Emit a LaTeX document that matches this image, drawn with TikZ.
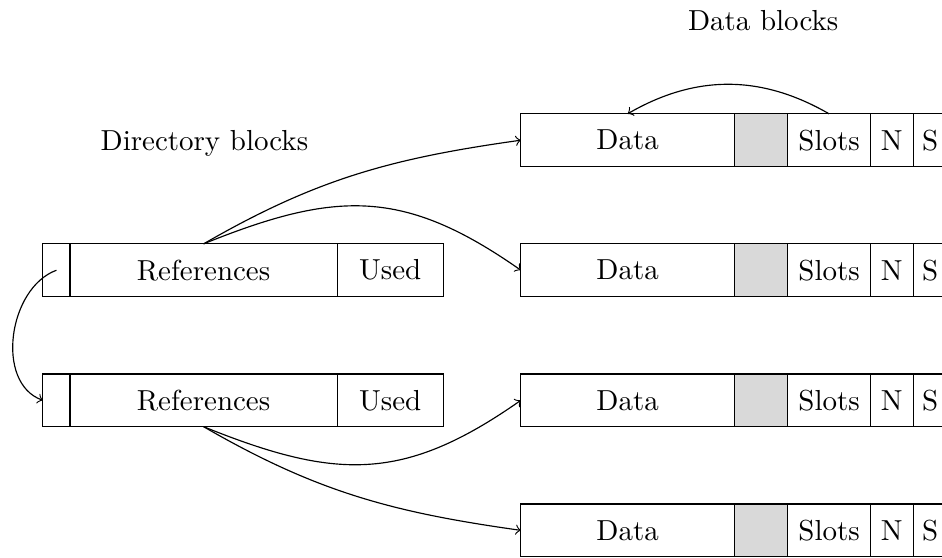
\documentclass[tikz,border=0pt]{standalone}
\usetikzlibrary{positioning}
\tikzset{
    cell/.style={draw, minimum height=0.64cm, inner sep=0pt, outer sep=0pt},
}
\begin{document}
\begin{tikzpicture}
    \useasboundingbox (0,-0.015) rectangle (11.43,6.755);

    % data blocks
    \foreach \i in {1,...,4} {
        \node[cell, minimum width=2.59cm, anchor=south west] (data\i) at (6.32,{(4-\i)*1.578}) {Data};
        \node[cell, minimum width=0.65cm, fill=gray!30, right=0pt of data\i] (gap\i) {};
        \node[cell, minimum width=1cm, right=0pt of gap\i] (slots\i) {Slots};
        \node[cell, minimum width=0.52cm, right=0pt of slots\i] (n\i) {N};
        \node[cell, minimum width=0.41cm, right=0pt of n\i] (s\i) {S};
    }

    % directory blocks
    \foreach \i/\y in {1/3.156, 2/1.578} {
        \node[cell, minimum width=0.33cm, anchor=south west] (link\i) at (0.52,\y) {};
        \node[cell, minimum width=3.24cm, right=0pt of link\i] (refs\i) {References};
        \node[cell, minimum width=1.29cm, right=0pt of refs\i] (used\i) {Used};
    }

    \node (datalabel) at (9.26,6.50) {Data blocks};
    \node (dirlabel) at (2.48,5.01) {Directory blocks};

    \draw[->] (slots1.north) to[bend right=30] (data1.north);
    \draw[->] (link1.center) to[out=200, in=160] (link2.west);

    \draw[->] (refs1.north) to[out=30, in=188] (data1.west);
    \draw[->] (refs1.north) to[out=22, in=145, looseness=1.15] (data2.west);
    \draw[->] (refs2.south) to[out=-22, in=215, looseness=1.15] (data3.west);
    \draw[->] (refs2.south) to[out=-30, in=172] (data4.west);
\end{tikzpicture}
\end{document}
